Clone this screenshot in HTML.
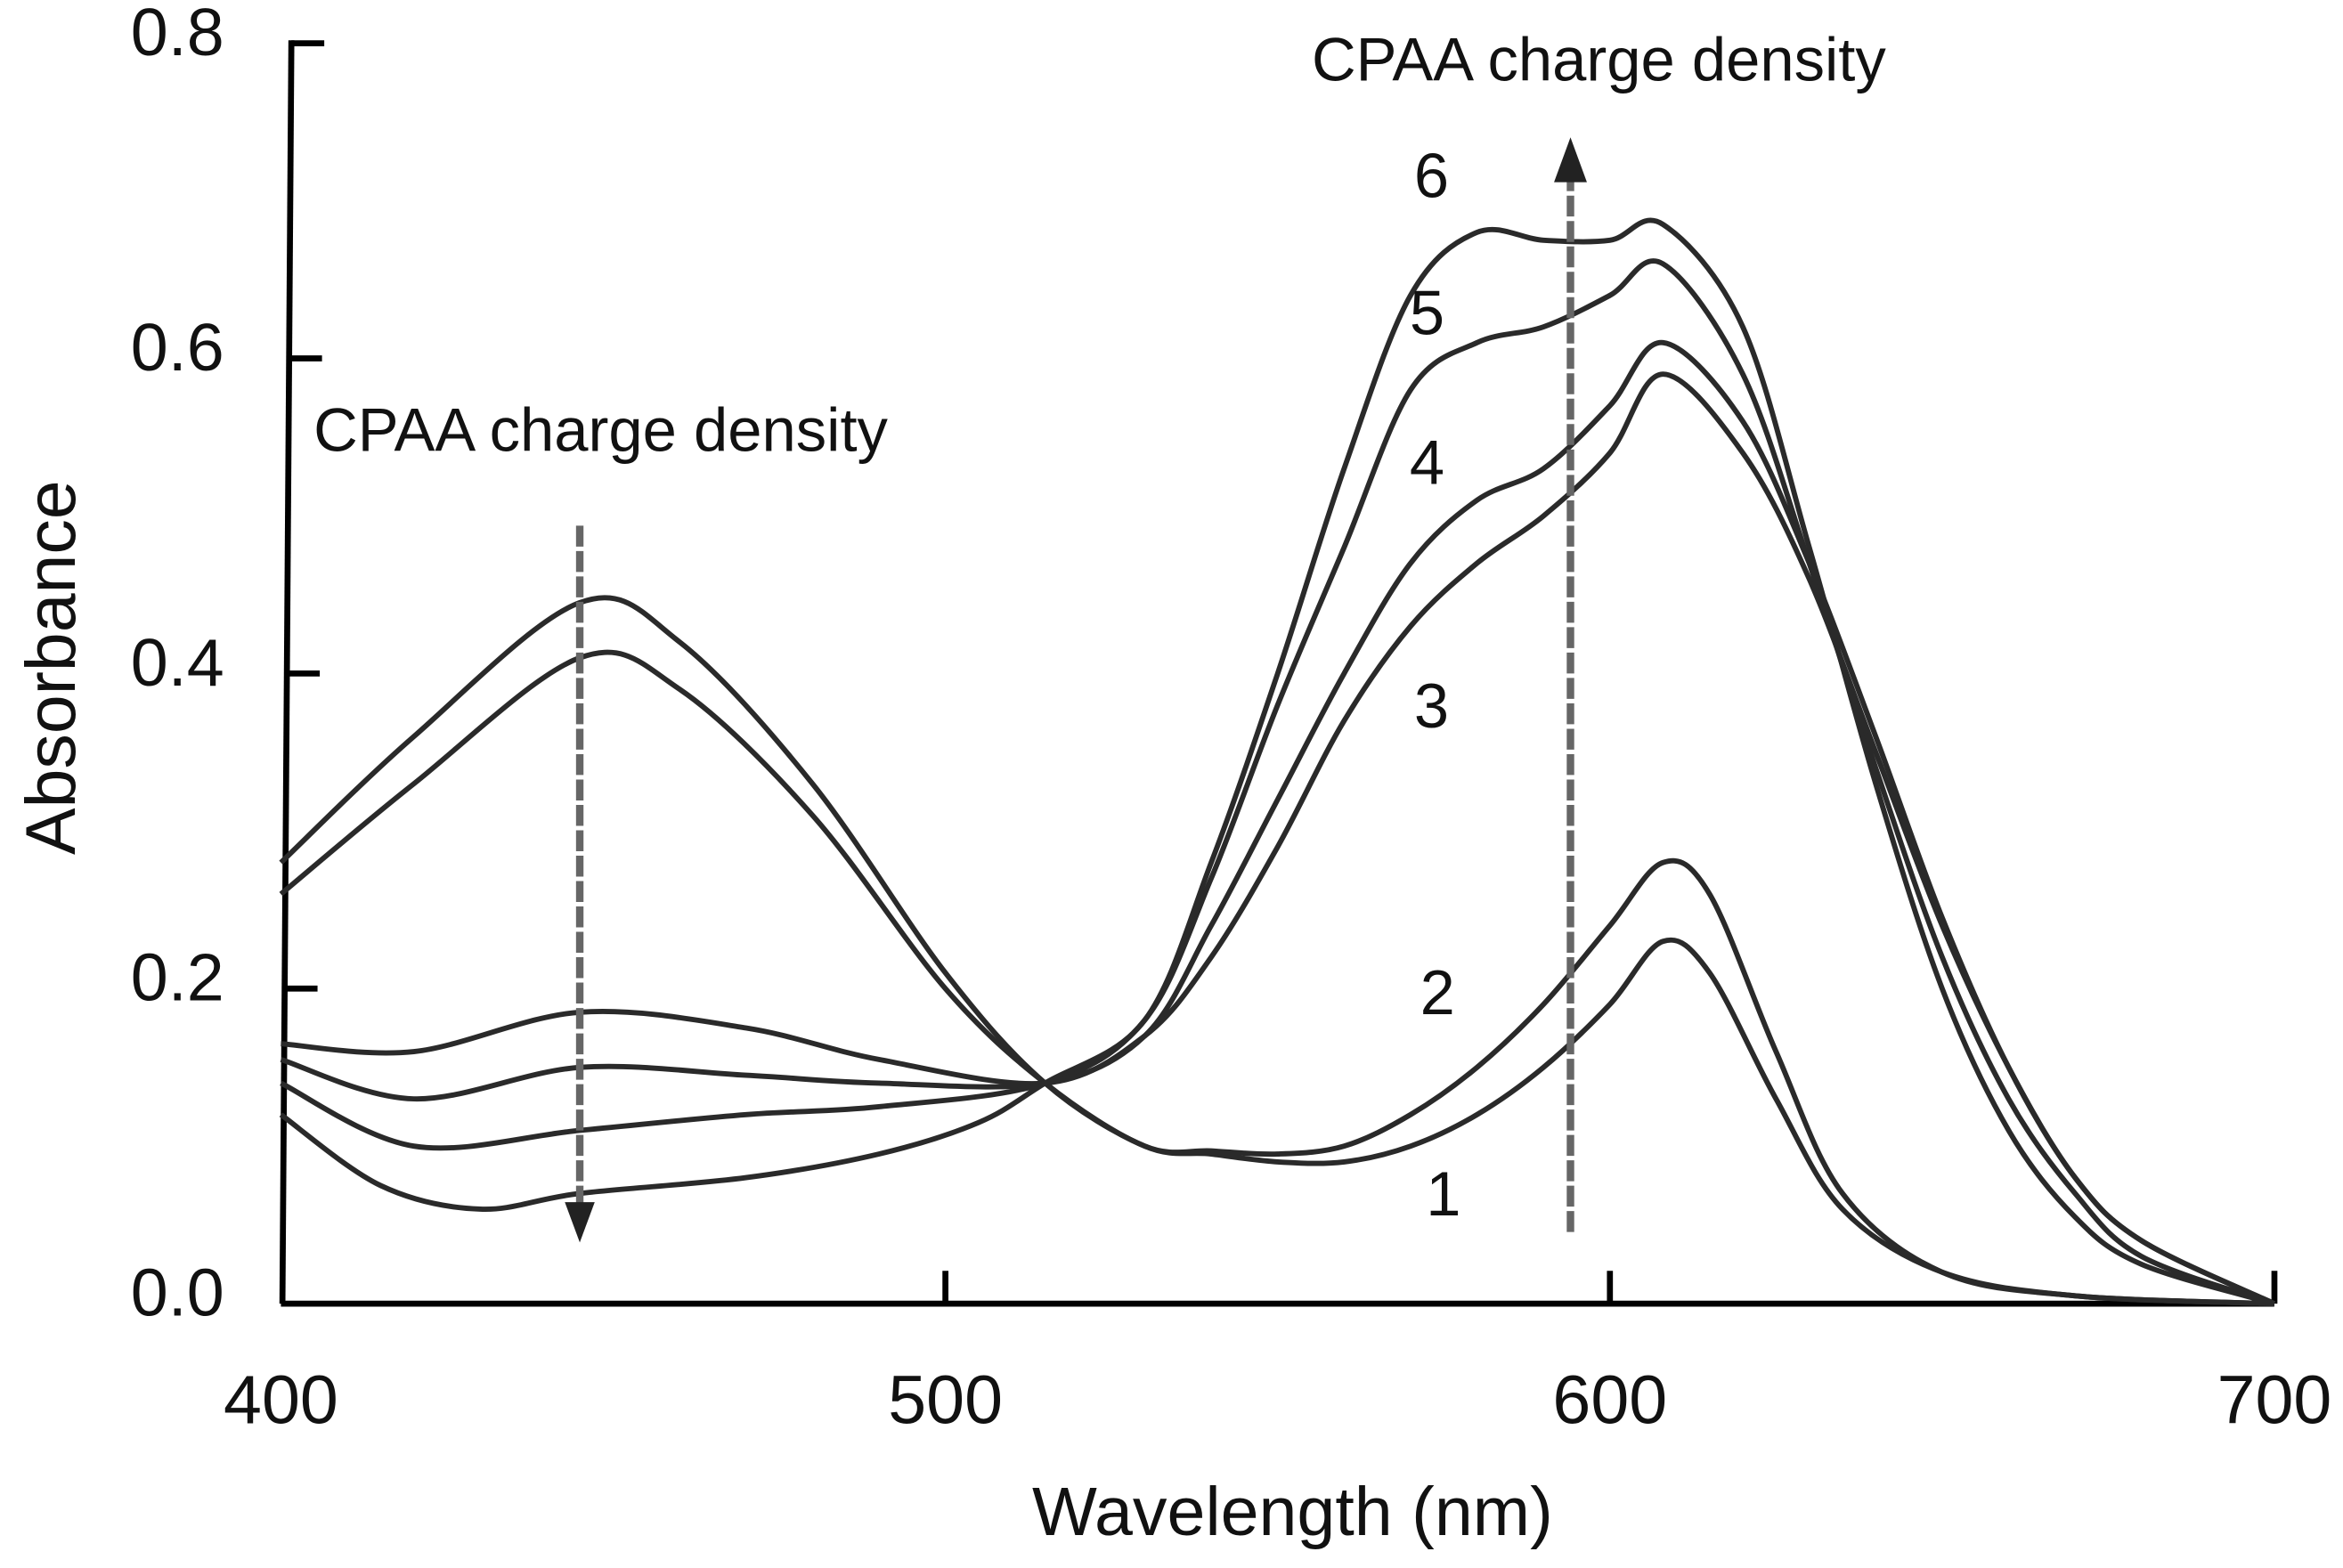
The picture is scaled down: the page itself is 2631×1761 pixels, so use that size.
<!DOCTYPE html>
<html><head><meta charset="utf-8"><style>
html,body{margin:0;padding:0;background:#fff;}
svg{display:block;}
text{font-family:"Liberation Sans",Arial,sans-serif;fill:#111;}
</style></head><body>
<svg id="chart" width="2631" height="1761" viewBox="0 0 1568 1050" preserveAspectRatio="none" xmlns="http://www.w3.org/2000/svg">
<g id="axes"></g>
<g id="series"></g>
<g id="labels"></g>
</svg>
<script>
const xTicks = [400, 500, 600, 700];
const yTicks = [0.0, 0.2, 0.4, 0.6, 0.8];
const curveLabels = ["1","2","3","4","5","6"];
const w1 = [400,420,445,460,480,500,515,530,540,550,560,570,580,590,600,608,615,625,635,650,670,700];
const s1 = [0.28,0.36,0.445,0.42,0.33,0.21,0.14,0.10,0.095,0.09,0.09,0.10,0.12,0.15,0.19,0.23,0.21,0.13,0.06,0.02,0.005,0];
const s2 = [0.26,0.33,0.41,0.39,0.31,0.20,0.14,0.10,0.097,0.095,0.10,0.12,0.15,0.19,0.24,0.28,0.26,0.16,0.07,0.02,0.005,0];
const w3 = [400,420,445,470,490,515,530,540,550,560,570,580,590,600,608,620,630,640,650,660,670,680,700];
const s3 = [0.165,0.16,0.185,0.175,0.155,0.14,0.17,0.22,0.29,0.37,0.43,0.47,0.50,0.54,0.59,0.54,0.46,0.35,0.24,0.15,0.08,0.04,0];
const s4 = [0.155,0.13,0.15,0.145,0.14,0.14,0.17,0.24,0.32,0.40,0.47,0.51,0.53,0.57,0.61,0.56,0.47,0.36,0.245,0.15,0.08,0.04,0];
const s5 = [0.14,0.10,0.11,0.12,0.125,0.14,0.18,0.27,0.38,0.48,0.58,0.61,0.62,0.64,0.66,0.59,0.47,0.34,0.22,0.13,0.07,0.03,0];
const w6 = [400,415,430,445,470,490,505,515,530,540,550,560,570,580,590,600,608,620,630,640,650,660,670,680,700];
const s6 = [0.12,0.075,0.06,0.07,0.08,0.095,0.115,0.14,0.18,0.28,0.40,0.53,0.64,0.68,0.675,0.675,0.685,0.62,0.48,0.33,0.20,0.11,0.055,0.025,0];

const NS="http://www.w3.org/2000/svg";
const X = w => 188 + (w-400)*4.447;
const Y = a => 873 - a*1055;
function mk(tag, attrs, parent){const e=document.createElementNS(NS,tag);for(const k in attrs)e.setAttribute(k,attrs[k]);parent.appendChild(e);return e;}
const axes=document.getElementById('axes'), ser=document.getElementById('series'), lab=document.getElementById('labels');

let e;
e=mk('line',{x1:188,y1:Y(0),x2:1522,y2:Y(0),stroke:'#000','stroke-width':4},axes);


e=mk('line',{x1:189,y1:Y(0),x2:195,y2:27,stroke:'#000','stroke-width':4},axes);


xTicks.forEach(t=>{
  if(t>400){e=mk('line',{x1:X(t),y1:Y(0),x2:X(t),y2:Y(0)-22,stroke:'#000','stroke-width':4},axes);
  
  }
  e=mk('text',{x:X(t),y:953,'font-size':46,'text-anchor':'middle'},axes);e.textContent=t;
  
  
});
yTicks.forEach(t=>{
  if(t>0){const xa=189+(t/0.8)*6;e=mk('line',{x1:xa,y1:Y(t),x2:xa+22,y2:Y(t),stroke:'#000','stroke-width':4},axes);
  
  }
  e=mk('text',{x:150,y:Y(t)+8,'font-size':45,'text-anchor':'end'},axes);e.textContent=t.toFixed(1);
  
  
});
e=mk('text',{x:865,y:1028,'font-size':46,'text-anchor':'middle'},axes);e.textContent='Wavelength (nm)';


e=mk('text',{x:0,y:0,'font-size':47,'text-anchor':'middle',transform:'translate(50,447) rotate(-90)'},axes);e.textContent='Absorbance';



function path(ws, vs){
  const p=ws.map((w,i)=>[X(w),Y(vs[i])]);
  let d='M'+p[0][0]+','+p[0][1];
  for(let i=0;i<p.length-1;i++){
    const p0=p[Math.max(0,i-1)],p1=p[i],p2=p[i+1],p3=p[Math.min(p.length-1,i+2)];
    const c1=[p1[0]+(p2[0]-p0[0])/6,p1[1]+(p2[1]-p0[1])/6];
    const c2=[p2[0]-(p3[0]-p1[0])/6,p2[1]-(p3[1]-p1[1])/6];
    d+=' C'+c1+' '+c2+' '+p2;
  }
  return d;
}
const all=[[w1,s1],[w1,s2],[w3,s3],[w3,s4],[w3,s5],[w6,s6]];
all.forEach((c,i)=>{
  e=mk('path',{d:path(c[0],c[1]),fill:'none',stroke:'#2a2a2a','stroke-width':3.5},ser);
  
  
});
e=mk('line',{x1:388,y1:352,x2:388,y2:815,stroke:'#666','stroke-width':5,'stroke-dasharray':'14,3'},lab);


e=mk('polygon',{points:'378,805 398,805 388,832',fill:'#222'},lab);


e=mk('line',{x1:1051,y1:825,x2:1051,y2:115,stroke:'#666','stroke-width':5,'stroke-dasharray':'14,3'},lab);


e=mk('polygon',{points:'1040,122 1062,122 1051,92',fill:'#222'},lab);


e=mk('text',{x:1070,y:54,'font-size':41,'text-anchor':'middle'},lab);e.textContent='CPAA charge density';


e=mk('text',{x:402,y:302,'font-size':41,'text-anchor':'middle'},lab);e.textContent='CPAA charge density';


const lp=[[966,814],[962,679],[958,487],[955,324],[955,224],[958,132]];
curveLabels.forEach((t,i)=>{
  e=mk('text',{x:lp[i][0],y:lp[i][1],'font-size':42,'text-anchor':'middle'},lab);e.textContent=t;
  
  
});
</script>
</body></html>
